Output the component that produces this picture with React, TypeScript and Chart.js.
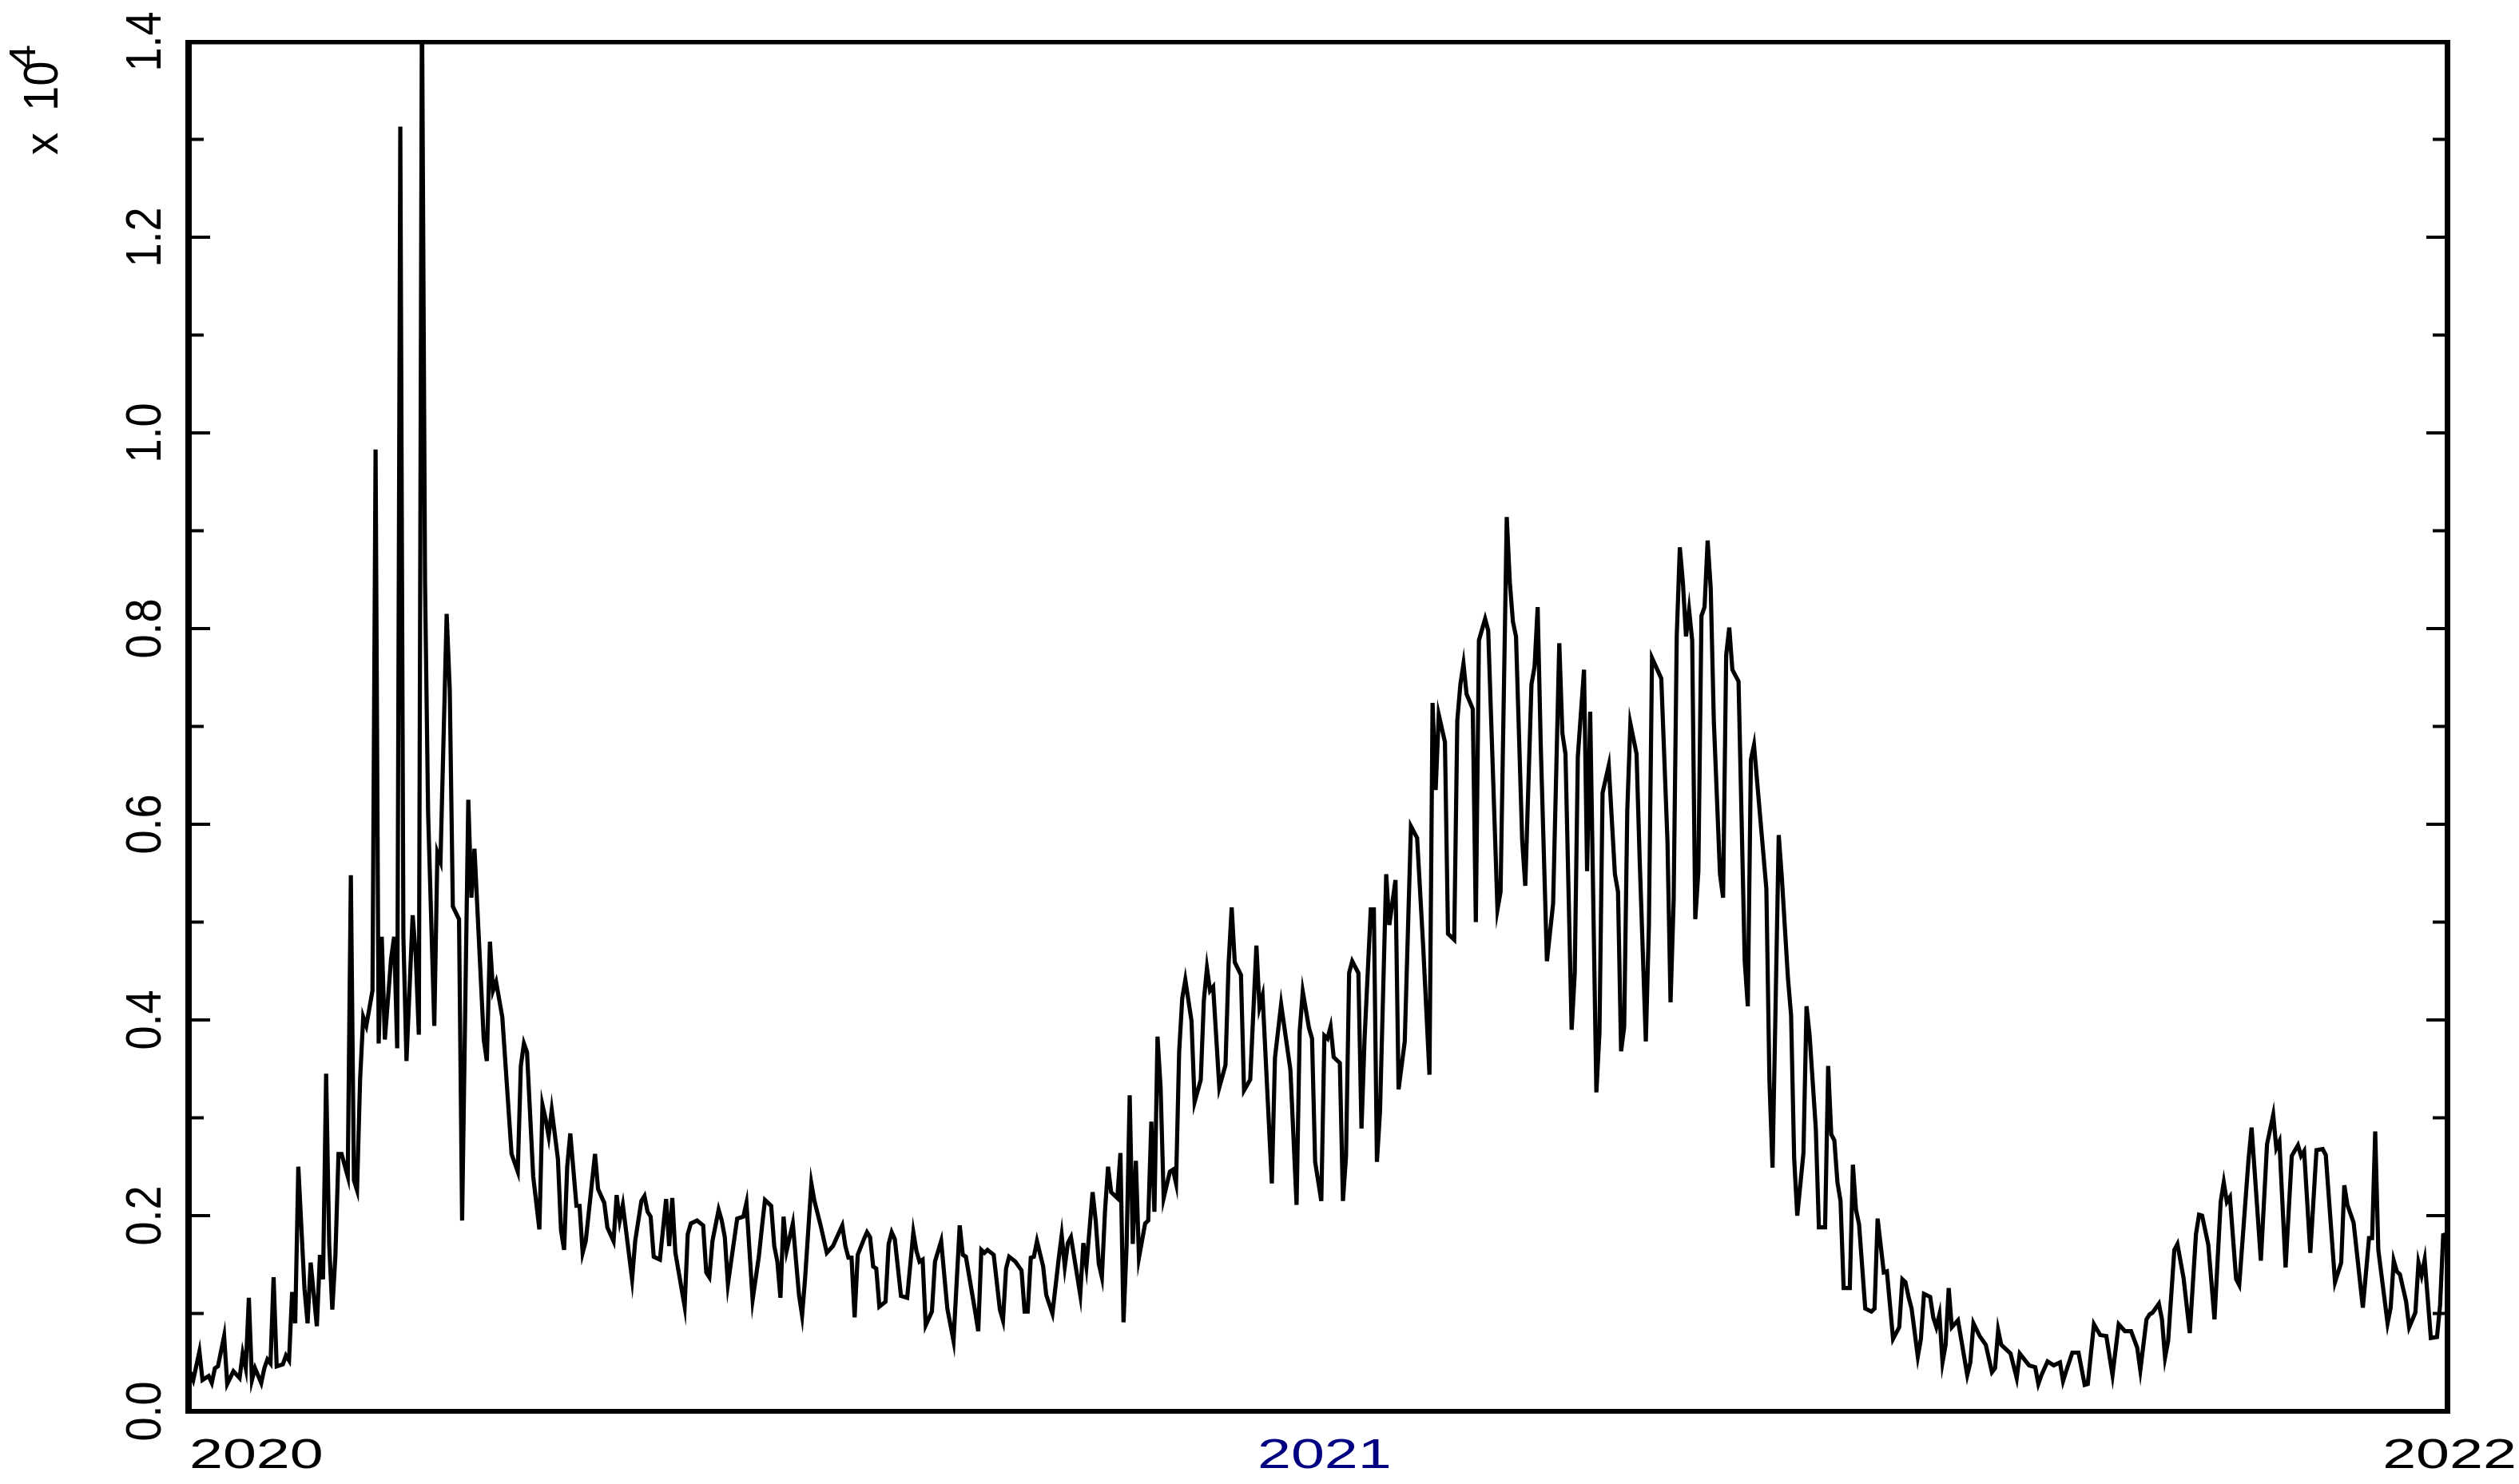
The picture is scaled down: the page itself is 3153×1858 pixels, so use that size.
import React, { useEffect, useRef } from "react";
import { Chart, registerables } from "chart.js";

Chart.register(...registerables);

// Day offset from 2020-01-01 and daily count
const dayIndex = [
  0, 1, 3, 4, 6, 7, 8, 9, 11, 12,
  14, 16, 17, 18, 19, 20, 21, 23, 24, 25,
  26, 27, 28, 30, 31, 32, 33, 34, 35, 37,
  38, 39, 41, 42, 43, 44, 45, 46, 47, 48,
  49, 51, 52, 53, 54, 55, 56, 57, 59, 60,
  61, 62, 63, 65, 66, 67, 68, 69, 70, 72,
  73, 74, 75, 76, 77, 79, 80, 81, 83, 84,
  85, 87, 88, 90, 91, 92, 95, 96, 97, 98,
  99, 101, 104, 106, 107, 108, 109, 111, 113, 114,
  115, 116, 117, 119, 120, 121, 122, 123, 125, 126,
  127, 128, 131, 132, 134, 135, 137, 138, 139, 140,
  143, 144, 146, 147, 148, 149, 150, 152, 154, 155,
  156, 157, 160, 161, 162, 164, 166, 167, 168, 169,
  171, 172, 173, 174, 177, 179, 180, 182, 184, 185,
  186, 188, 189, 190, 191, 192, 193, 195, 197, 198,
  199, 201, 202, 204, 206, 208, 209, 210, 211, 212,
  213, 214, 215, 216, 218, 219, 220, 221, 222, 223,
  225, 226, 227, 228, 230, 232, 234, 235, 236, 237,
  238, 240, 241, 243, 245, 247, 249, 250, 251, 254,
  255, 256, 257, 258, 260, 262, 263, 264, 265, 267,
  269, 270, 271, 272, 273, 274, 276, 277, 279, 281,
  282, 283, 284, 285, 288, 289, 290, 292, 293, 294,
  295, 296, 297, 298, 300, 301, 302, 303, 304, 305,
  306, 307, 309, 310, 311, 312, 313, 314, 315, 317,
  318, 319, 320, 321, 322, 324, 325, 327, 328, 329,
  330, 331, 333, 335, 336, 337, 338, 340, 341, 343,
  345, 346, 347, 350, 351, 353, 356, 358, 359, 360,
  362, 363, 364, 366, 367, 368, 369, 370, 372, 373,
  374, 375, 376, 378, 379, 380, 382, 383, 384, 385,
  387, 388, 390, 391, 393, 395, 397, 399, 401, 402,
  403, 404, 406, 407, 409, 410, 411, 412, 413, 415,
  416, 417, 419, 420, 423, 424, 426, 427, 428, 429,
  431, 432, 434, 435, 436, 437, 439, 441, 443, 444,
  445, 447, 448, 449, 451, 452, 453, 455, 456, 457,
  459, 461, 462, 463, 464, 465, 466, 468, 469, 471,
  472, 473, 476, 478, 479, 480, 481, 482, 483, 484,
  485, 486, 487, 488, 489, 490, 491, 492, 493, 495,
  496, 497, 498, 499, 501, 503, 504, 505, 506, 510,
  511, 512, 513, 514, 515, 517, 518, 519, 520, 522,
  523, 524, 526, 527, 529, 530, 531, 532, 533, 534,
  535, 537, 538, 539, 540, 542, 544, 545, 546, 548,
  549, 551, 553, 554, 555, 556, 557, 559, 560, 561,
  563, 564, 565, 566, 567, 568, 569, 570, 572, 575,
  576, 577, 579, 581, 583, 584, 585, 586, 589, 591,
  592, 594, 595, 597, 598, 599, 601, 603, 605, 606,
  607, 609, 611, 613, 614, 616, 618, 620, 622, 624,
  626, 628, 630, 631, 633, 634, 635, 637, 638, 639,
  640, 642, 643, 645, 647, 649, 650, 651, 653, 655,
  657, 658, 659, 660, 662, 663, 666, 667, 668, 670,
  672, 674, 675, 676, 678, 680, 682, 683, 684, 686,
  688, 690, 691, 694, 696, 697, 698, 700, 703, 705,
  706, 707, 708, 711, 712, 713, 714, 715, 717, 718,
  720, 721, 722, 723, 725, 727, 728, 729, 730,
];

const dailyCases = [
  400, 320, 610, 320, 360, 290, 440, 460, 770, 280,
  410, 340, 590, 440, 1160, 320, 440, 290, 440, 530,
  490, 1370, 460, 480, 570, 520, 1220, 900, 2500, 1250,
  900, 1520, 870, 1600, 1350, 3450, 1700, 1040, 1590, 2630,
  2630, 2400, 5480, 2360, 2260, 3400, 4030, 3940, 4300, 9830,
  3760, 4850, 3800, 4620, 4850, 3710, 13130, 4850, 3580, 5070,
  4660, 3850, 14500, 8470, 6110, 3940, 5710, 5620, 8150, 7380,
  5160, 5030, 1950, 6250, 5250, 5750, 3800, 3580, 4800, 4300,
  4390, 4030, 2630, 2450, 3530, 3760, 3670, 2400, 1860, 3130,
  2990, 2810, 3080, 2580, 1850, 1650, 2500, 2840, 2100, 2100,
  1620, 1740, 2630, 2270, 2130, 1880, 1740, 2210, 1950, 2110,
  1350, 1740, 2150, 2200, 2040, 1990, 1580, 1550, 2170, 1690,
  2180, 1620, 1070, 1810, 1920, 1950, 1900, 1420, 1370, 1740,
  2060, 1950, 1780, 1300, 1970, 1990, 2130, 1140, 1580, 1880,
  2160, 2100, 1690, 1530, 1160, 1990, 1640, 1920, 1190, 980,
  1370, 2330, 2150, 1900, 1620, 1690, 1760, 1830, 1900, 1690,
  1570, 1570, 960, 1600, 1760, 1830, 1780, 1480, 1460, 1070,
  1120, 1710, 1830, 1760, 1180, 1160, 1830, 1640, 1530, 1550,
  880, 1020, 1530, 1740, 1050, 720, 1900, 1600, 1580, 1020,
  820, 1650, 1620, 1650, 1600, 1040, 930, 1460, 1580, 1530,
  1440, 1020, 1020, 1570, 1580, 1740, 1480, 1190, 1000, 1550,
  1800, 1480, 1720, 1780, 1190, 1720, 1480, 2240, 1950, 1510,
  1370, 2040, 2500, 2240, 2180, 2640, 910, 1690, 3230, 1710,
  2560, 1570, 1920, 1950, 2960, 2040, 3830, 3310, 2180, 2450,
  2470, 2330, 3670, 4220, 4410, 3990, 3160, 3390, 4200, 4530,
  4300, 4340, 3310, 3540, 4570, 5150, 4590, 4460, 3280, 3390,
  4760, 4130, 4250, 2330, 3610, 4160, 3490, 2110, 3880, 4290,
  3920, 3810, 2550, 2150, 3840, 3810, 3930, 3620, 3560, 2150,
  2610, 4480, 4600, 4480, 2890, 3810, 5130, 5130, 2550, 3070,
  5490, 4970, 5430, 3290, 3780, 5980, 5860, 4730, 3440, 7240,
  6350, 7120, 6840, 4880, 4820, 7060, 7430, 7640, 7330, 7180,
  5000, 7880, 8100, 7980, 5130, 5310, 9140, 8470, 8070, 7920,
  5830, 5370, 7430, 7610, 8220, 6810, 4600, 5190, 7850, 6930,
  6720, 3900, 4480, 6690, 7580, 5520, 7150, 3260, 3870, 6320,
  6600, 5490, 5310, 3680, 3930, 6140, 7030, 6720, 5650, 3780,
  4970, 7700, 7490, 5830, 4180, 5220, 7920, 8830, 8470, 7920,
  8190, 7880, 5030, 5520, 8130, 8220, 8900, 8410, 7060, 5490,
  5250, 7730, 8010, 7580, 7460, 4600, 4140, 6660, 6810, 5340,
  3380, 2490, 4180, 5890, 5460, 4420, 4050, 2580, 2000, 2640,
  4140, 3840, 2890, 1880, 1880, 3530, 2830, 2770, 2340, 2150,
  1260, 1260, 2520, 2060, 1910, 1050, 1020, 1050, 1970, 1420,
  1430, 740, 860, 1350, 1320, 1170, 1050, 560, 740, 1200,
  1170, 960, 860, 990, 500, 680, 1260, 860, 930, 370,
  500, 900, 770, 680, 400, 440, 830, 680, 590, 340,
  590, 510, 470, 450, 280, 370, 510, 470, 500, 310,
  410, 600, 600, 270, 280, 890, 780, 770, 370, 890,
  820, 820, 650, 420, 940, 990, 1010, 1100, 940, 550,
  720, 1650, 1710, 1360, 800, 1810, 2010, 2000, 1700, 940,
  2140, 2340, 2140, 2190, 1350, 1290, 2570, 2900, 2450, 1540,
  2730, 3030, 2690, 2760, 1470, 2610, 2720, 2610, 2660, 1620,
  2670, 2680, 2620, 1320, 1520, 2310, 2110, 1930, 1060, 1770,
  1770, 2860, 1650, 900, 1060, 1540, 1430, 1400, 1120, 860,
  1010, 1520, 1390, 1550, 750, 760, 1090, 1800, 1810,
];

const yMajorTicks = [0, 2000, 4000, 6000, 8000, 10000, 12000, 14000];
const yMajorLabels = ["0.0", "0.2", "0.4", "0.6", "0.8", "1.0", "1.2", "1.4"];
const yMinorTicks = [1000, 3000, 5000, 7000, 9000, 11000, 13000];
const xTickDays = [0, 366, 730];
const xTickLabels = ["2020", "2021", "2022"];
const exponentLabel = ["x", "10", "4"];

const FONT = '"Liberation Sans", Arial, Helvetica, sans-serif';

const decorPlugin = {
  id: "decor",
  afterDatasetsDraw(chart: any) {
    const { ctx, chartArea: a, scales } = chart;
    const ys = scales.y;
    const xs = scales.x;
    ctx.save();
    ctx.fillStyle = "#000";

    // frame
    const L = a.left - 6;
    const R = a.right + 5;
    const T = a.top - 2;
    const B = a.bottom + 3;
    ctx.fillRect(L, T, 8, B - T);
    ctx.fillRect(a.right - 2, T, 7, B - T);
    ctx.fillRect(L, T, R - L, 5.5);
    ctx.fillRect(L, a.bottom - 3, R - L, 6);

    // y ticks (both sides, inward)
    const drawTick = (v: number, len: number) => {
      const py = ys.getPixelForValue(v);
      ctx.fillRect(a.left + 2, py - 2, len, 4);
      ctx.fillRect(a.right - 2 - len, py - 2, len, 4);
    };
    yMajorTicks.forEach((v) => {
      if (v > ys.min && v < ys.max) drawTick(v, 23);
    });
    yMinorTicks.forEach((v) => drawTick(v, 15));

    // y labels (rotated)
    ctx.font = `54px ${FONT}`;
    ctx.textAlign = "center";
    ctx.textBaseline = "alphabetic";
    yMajorTicks.forEach((v, i) => {
      const py = ys.getPixelForValue(v);
      ctx.save();
      ctx.translate(201, py);
      ctx.scale(1.15, 1);
      ctx.rotate(-Math.PI / 2);
      ctx.fillText(yMajorLabels[i], 0, 0);
      ctx.restore();
    });

    // exponent label "x 10^4"
    ctx.textAlign = "left";
    ctx.font = `56px ${FONT}`;
    const rot = (x: number, y: number, sx: number, t: string) => {
      ctx.save();
      ctx.translate(x, y);
      ctx.scale(sx, 1);
      ctx.rotate(-Math.PI / 2);
      ctx.fillText(t, 0, 0);
      ctx.restore();
    };
    rot(72, 194, 1.05, exponentLabel[0]);
    rot(72, 139, 1.1, exponentLabel[1]);
    rot(44, 87, 0.82, exponentLabel[2]);

    // x labels
    ctx.font = `52px ${FONT}`;
    xTickDays.forEach((d, i) => {
      const px = xs.getPixelForValue(d);
      ctx.save();
      ctx.fillStyle = i === 1 ? "#000080" : "#000";
      ctx.textAlign = i === 0 ? "left" : "center";
      ctx.translate(i === 0 ? px - 1 : px + 4, 1838);
      ctx.scale(1.45, 1);
      ctx.fillText(xTickLabels[i], 0, 0);
      ctx.restore();
    });

    ctx.restore();
  },
};

export default function App() {
  const canvasRef = useRef<HTMLCanvasElement | null>(null);

  useEffect(() => {
    const canvas = canvasRef.current;
    if (!canvas) return;
    const n = Math.min(dayIndex.length, dailyCases.length);
    const points = [];
    for (let i = 0; i < n; i++) points.push({ x: dayIndex[i], y: dailyCases[i] });

    const chart = new Chart(canvas, {
      type: "line",
      data: {
        datasets: [
          {
            data: points,
            borderColor: "#000",
            borderWidth: 5.2,
            pointRadius: 0,
            tension: 0,
            fill: false,
          },
        ],
      },
      options: {
        animation: false,
        responsive: false,
        maintainAspectRatio: false,
        devicePixelRatio: 1,
        layout: { padding: { left: 238, right: 91, top: 52, bottom: 91 } },
        plugins: { legend: { display: false }, tooltip: { enabled: false } },
        scales: {
          x: { type: "linear", min: 0, max: 730, display: false },
          y: { type: "linear", min: 0, max: 14000, display: false },
        },
      },
      plugins: [decorPlugin],
    });
    return () => chart.destroy();
  }, []);

  return (
    <div
      style={{
        position: "absolute",
        left: 0,
        top: 0,
        width: 3153,
        height: 1858,
        background: "#fff",
      }}
    >
      <canvas ref={canvasRef} width={3153} height={1858} style={{ display: "block" }} />
    </div>
  );
}
